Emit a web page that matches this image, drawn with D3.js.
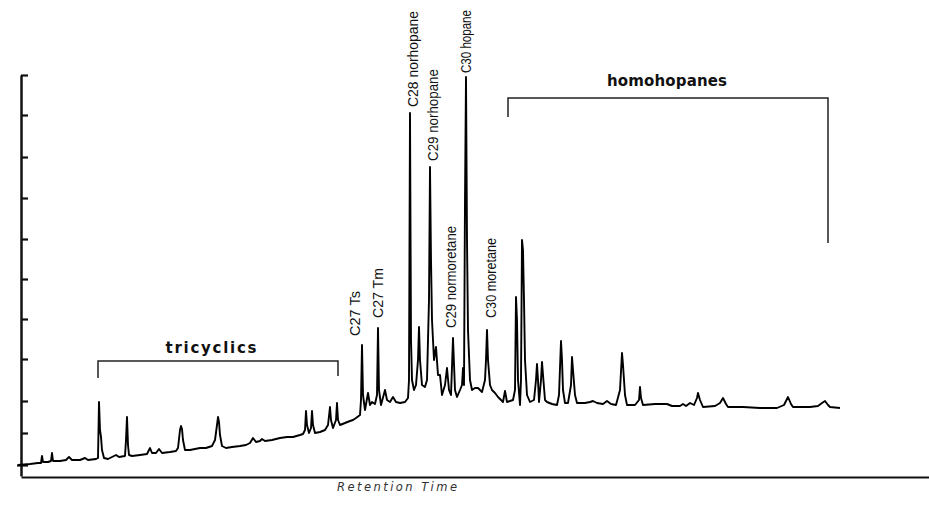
<!DOCTYPE html>
<html>
<head>
<meta charset="utf-8">
<script src="https://cdn.jsdelivr.net/npm/d3@7"></script>
<style>
  body { margin: 0; background: #fff; }
  svg { display: block; }
</style>
</head>
<body>
<div id="chart"></div>
<script>
// Chromatogram trace: retention (scan units) and detector intensity
const retention = [
  0, 12, 20, 23, 24, 25, 30, 33, 34, 35, 42, 48, 51, 54, 62, 67, 70, 78, 80, 81,
  82, 83, 84, 86, 90, 94, 98, 101, 107, 108, 109, 110, 111, 114, 122, 129, 132, 134, 138, 141,
  144, 152, 158, 160, 162, 163, 164, 165, 167, 172, 177, 182, 188, 194, 197, 199, 200, 201, 202, 204,
  208, 214, 222, 228, 232, 235, 238, 242, 244, 247, 254, 262, 269, 275, 282, 285, 287, 288, 289, 291,
  293, 294, 295, 297, 302, 307, 310, 312, 313, 315, 318, 319, 320, 322, 327, 332, 335, 338, 342, 343,
  344, 345, 347, 350, 352, 354, 357, 359, 360, 361, 363, 367, 369, 372, 375, 378, 382, 387, 390, 391,
  392, 393, 394, 396, 398, 400, 401, 402, 404, 407, 409, 411, 412, 413, 414, 416, 418, 420, 422, 424,
  427, 429, 431, 433, 435, 437, 439, 442, 444, 445, 446, 447, 448, 449, 450, 452, 454, 457, 460, 464,
  467, 468, 469, 470, 472, 474, 477, 480, 485, 487, 489, 492, 495, 497, 498, 499, 500, 502, 503, 504,
  505, 506, 507, 509, 512, 516, 518, 519, 520, 521, 523, 524, 525, 527, 529, 534, 539, 541, 543, 544,
  545, 547, 550, 553, 554, 555, 557, 559, 567, 572, 575, 579, 585, 589, 593, 598, 602, 604, 605, 607,
  609, 617, 621, 622, 623, 625, 637, 649, 654, 662, 665, 668, 672, 676, 679, 680, 682, 685, 697, 702,
  705, 708, 710, 725, 742, 759, 766, 770, 773, 775, 792, 800, 804, 807, 810, 812, 822
];
const intensity = [
  11, 12, 13, 13, 20, 14, 14, 15, 23, 15, 15, 16, 19, 16, 16, 18, 16, 17, 18, 74,
  46, 39, 26, 18, 17, 19, 21, 19, 20, 36, 59, 31, 21, 20, 21, 22, 28, 23, 23, 27,
  23, 24, 25, 28, 46, 50, 47, 36, 26, 26, 27, 28, 28, 30, 36, 51, 59, 54, 41, 30,
  28, 29, 30, 31, 33, 38, 34, 35, 37, 35, 36, 38, 39, 39, 41, 42, 46, 65, 51, 43,
  48, 65, 51, 43, 44, 46, 51, 69, 56, 48, 56, 73, 56, 51, 53, 55, 56, 58, 61, 76,
  131, 81, 66, 83, 71, 74, 72, 81, 148, 86, 71, 86, 76, 74, 79, 74, 73, 74, 78, 96,
  363, 136, 96, 86, 91, 116, 149, 116, 91, 89, 96, 176, 309, 216, 156, 116, 129, 101, 101, 81,
  91, 108, 86, 81, 138, 86, 79, 86, 91, 108, 91, 276, 399, 236, 146, 96, 86, 88, 88, 84,
  96, 116, 146, 116, 91, 86, 83, 79, 74, 85, 74, 75, 76, 86, 179, 156, 96, 71, 96, 236,
  226, 176, 116, 81, 74, 76, 96, 112, 96, 74, 96, 114, 101, 76, 74, 72, 71, 81, 135, 116,
  86, 73, 73, 91, 119, 106, 81, 73, 73, 74, 75, 73, 72, 75, 72, 71, 86, 123, 111, 81,
  71, 71, 76, 89, 78, 71, 72, 72, 70, 70, 72, 70, 73, 71, 78, 83, 76, 69, 70, 73,
  78, 72, 69, 69, 68, 68, 71, 79, 72, 69, 69, 70, 73, 75, 71, 69, 68
];

// Y axis tick values (intensity)
const yTicks = [401, 361, 319, 278, 237, 197, 157, 117, 75, 43, 11];

// Peak labels: name, retention, intensity where the label starts
const peakNames = ['C27 Ts', 'C27 Tm', 'C28 norhopane', 'C29 norhopane', 'C29 normoretane', 'C30 hopane', 'C30 moretane'];
const peakTimes = [336, 359, 394, 414, 432, 447, 472];
const peakLabelLevels = [140, 158, 369, 315, 148, 403, 158];

// Compound group brackets
const groupNames = ['tricyclics', 'homohopanes'];
const groupStart = [80, 490];
const groupEnd = [320, 810];
const groupLevel = [115, 378];
const groupLeftFoot = [98, 359];
const groupRightFoot = [100, 233];
const groupLabelTime = [193, 649];
const groupLabelLevel = [123, 390];

const svgWidth = 929, svgHeight = 505;
const axisX = 21, axisY = 477;
// rendered text lengths, matched to the original figure
const peakLabelLen = [45, 50, 96, 92, 102, 63, 80];
const groupLabelLen = [91, 120];

const svg = d3.select('#chart')
  .append('svg')
  .attr('width', svgWidth)
  .attr('height', svgHeight);

const x = d3.scaleLinear().domain([3, 911]).range([axisX, svgWidth]);
const y = d3.scaleLinear().domain([0, 401]).range([476, 75]);

// Axes
svg.append('g')
  .attr('transform', `translate(0, ${axisY})`)
  .call(d3.axisBottom(x).tickValues([]).tickSizeOuter(0))
  .call(g => g.select('.domain').attr('stroke', '#111').attr('stroke-width', 2.2));

const yAxis = svg.append('g')
  .attr('transform', `translate(${axisX}, 0)`)
  .call(d3.axisRight(y).tickValues(yTicks).tickSize(7).tickSizeOuter(0).tickFormat(''));
yAxis.select('.domain').attr('stroke', '#111').attr('stroke-width', 2.5);
yAxis.selectAll('.tick line').attr('stroke', '#111').attr('stroke-width', 2.2);
// lowest tick crosses the axis
yAxis.selectAll('.tick').filter(d => d === 11).select('line').attr('x1', -4);

// Trace
const trace = retention.map((t, i) => [t, intensity[i]]);
const line = d3.line()
  .x(d => x(d[0]))
  .y(d => y(d[1]));

svg.append('path')
  .datum(trace)
  .attr('fill', 'none')
  .attr('stroke', '#000')
  .attr('stroke-width', 1.9)
  .attr('stroke-linejoin', 'round')
  .attr('d', line);

// Brackets
groupNames.forEach((name, i) => {
  const pts = [
    [groupStart[i], groupLeftFoot[i]],
    [groupStart[i], groupLevel[i]],
    [groupEnd[i], groupLevel[i]],
    [groupEnd[i], groupRightFoot[i]]
  ];
  svg.append('path')
    .datum(pts)
    .attr('fill', 'none')
    .attr('stroke', '#222')
    .attr('stroke-width', 1.5)
    .attr('d', line);

  svg.append('text')
    .attr('x', x(groupLabelTime[i]))
    .attr('y', y(groupLabelLevel[i]))
    .attr('text-anchor', 'middle')
    .attr('textLength', groupLabelLen[i])
    .attr('lengthAdjust', 'spacing')
    .style('font-family', '"DejaVu Sans", sans-serif')
    .style('font-weight', 'bold')
    .style('font-size', '15px')
    .style('fill', '#111')
    .text(name);
});

// Peak labels (rotated, squeezed along the text to a narrow look)
peakNames.forEach((name, i) => {
  const px = x(peakTimes[i]), py = y(peakLabelLevels[i]);
  const label = svg.append('text')
    .attr('dy', '0.38em')
    .style('font-family', '"Liberation Sans", sans-serif')
    .style('font-size', '15px')
    .style('fill', '#111')
    .text(name);
  const natural = label.node().getComputedTextLength();
  const sx = peakLabelLen[i] / natural;
  label.attr('transform', `translate(${px}, ${py}) rotate(-90) scale(${sx}, 1)`);
});

// X axis label
svg.append('text')
  .attr('x', 397)
  .attr('y', 491)
  .attr('text-anchor', 'middle')
  .attr('textLength', 120)
  .attr('lengthAdjust', 'spacing')
  .style('font-family', '"DejaVu Sans", sans-serif')
  .style('font-style', 'italic')
  .style('font-size', '11.5px')
  .style('fill', '#333')
  .text('Retention Time');
</script>
</body>
</html>
